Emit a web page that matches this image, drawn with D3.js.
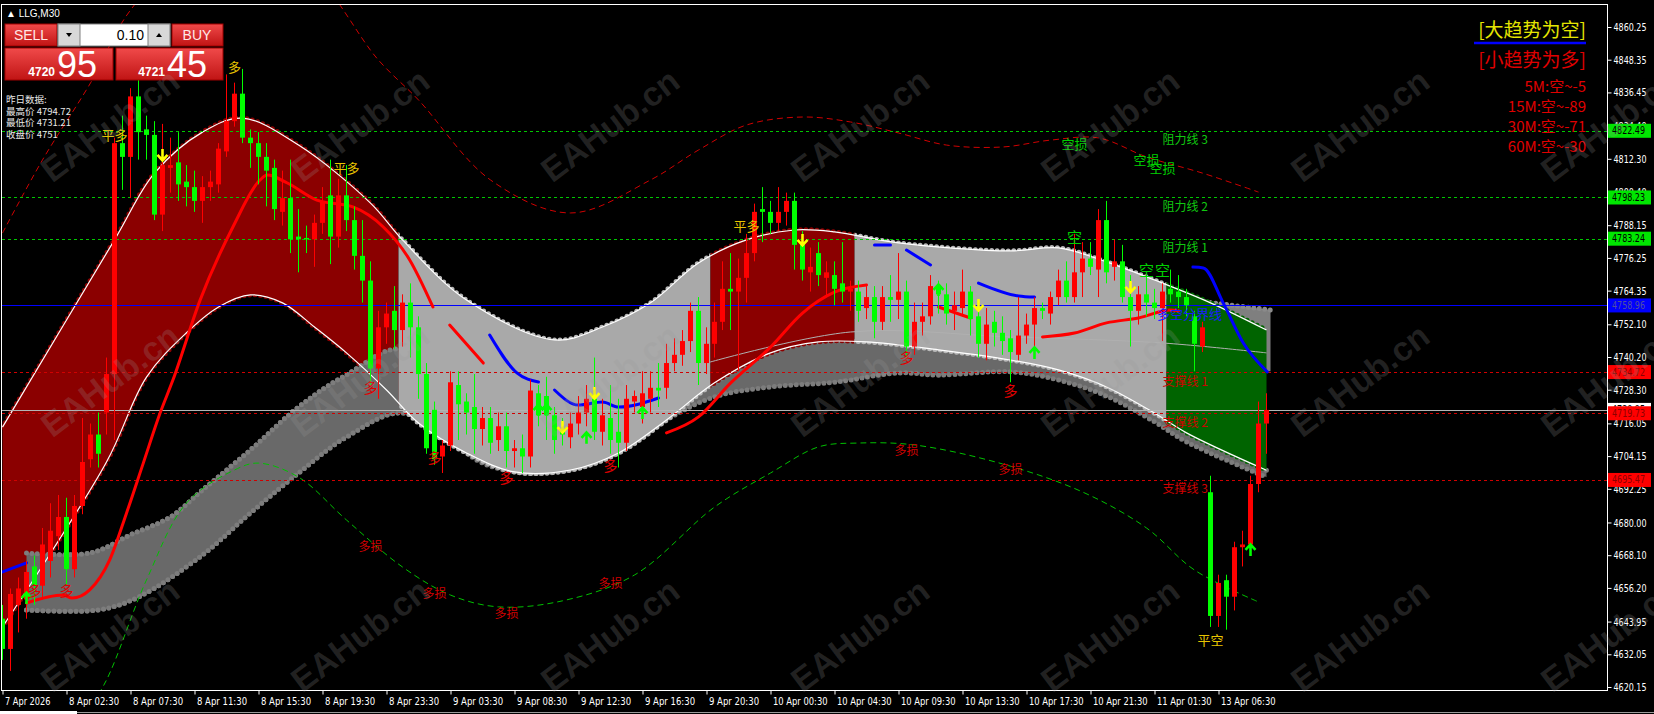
<!DOCTYPE html>
<html>
<head>
<meta charset="utf-8">
<script src="https://cdn.jsdelivr.net/npm/d3@7"></script>
<style>
body { margin: 0; background: #000; overflow: hidden; }
svg { display: block; }
</style>
</head>
<body>
<svg id="chart" width="1654" height="714"></svg>
<script>
// ---- data ----
var timeLabels = ["7 Apr 2026","8 Apr 02:30","8 Apr 07:30","8 Apr 11:30","8 Apr 15:30","8 Apr 19:30","8 Apr 23:30","9 Apr 03:30","9 Apr 08:30","9 Apr 12:30","9 Apr 16:30","9 Apr 20:30","10 Apr 00:30","10 Apr 04:30","10 Apr 09:30","10 Apr 13:30","10 Apr 17:30","10 Apr 21:30","11 Apr 01:30","13 Apr 06:30"];
var timeTickBars = [0,8,16,24,32,40,48,56,64,72,80,88,96,104,112,120,128,136,144,152];
var priceTicks = [4860.25,4848.35,4836.45,4824.40,4812.30,4800.40,4788.15,4776.25,4764.35,4752.10,4740.20,4728.30,4716.05,4704.15,4692.25,4680.00,4668.10,4656.20,4643.95,4632.05,4620.15];

var opens = [4645,4634,4650,4652,4664,4657,4666,4675,4682,4663,4686,4703,4712,4720,4734,4818,4813,4835,4823,4821,
  4792,4809,4811,4804,4802,4797,4802,4803,4815,4826,4836,4820,4818,4813,4809,4793,4798,4784,4783.5,4783,
  4789,4799,4784,4799,4790,4777,4768,4736,4751,4757,4750,4760,4751,4734,4721,4704,4708,4730,4724,4722,
  4714,4718,4710,4715,4706,4707,4704,4727,4726,4719,4714,4711,4716,4720,4725,4713,4718,4713,4709,4724,
  4722,4725,4729,4729,4738,4741,4746,4757,4738,4745,4753,4765,4764,4769,4778,4794,4793,4789,4793,4797,
  4781,4771,4778,4769,4770,4767,4764,4764,4758,4762,4753,4762,4761,4764,4744,4753,4755,4766,4763,4757,
  4758,4764,4755,4745,4753,4749,4747,4741,4748,4752,4758,4756,4762,4768,4762,4771,4776,4772,4790,4773,
  4775,4762,4757,4763,4760,4758,4765,4764,4762,4755,4744,4691,4646,4659,4653,4671,4672,4694,4716];
var highs = [4650,4656,4660,4666,4668,4678,4687,4690,4689,4690,4718,4716,4720,4740,4820,4828,4838,4843,4828,4826,
  4825,4820,4822,4810,4808,4806,4808,4818,4843,4840,4845,4823,4822,4818,4812,4808,4812,4794,4788,4792,
  4802,4812,4805,4810,4795,4790,4775,4757,4760,4766,4763,4767,4755,4738,4724,4710,4735,4735,4727,4734,
  4722,4722,4720,4720,4710,4712,4732,4730,4733,4722,4718,4720,4726,4730,4740,4725,4730,4725,4730,4728,
  4735,4735,4738,4745,4747,4750,4760,4762,4751,4760,4775,4778,4776,4785,4796,4802,4797,4802,4800,4800,
  4786,4780,4782,4775,4775,4782,4768,4768,4766,4766,4766,4770,4778,4768,4760,4760,4770,4768,4767,4764,
  4772,4766,4760,4758,4757,4755,4750,4762,4756,4762,4760,4764,4772,4775,4785,4782,4782,4794,4797,4783,
  4781,4770,4766,4770,4765,4767,4772,4770,4765,4757,4753,4697,4661,4661,4673,4677,4697,4724,4727];
var lows = [4630,4626,4640,4645,4650,4652,4660,4670,4657,4660,4683,4700,4700,4712,4710,4801,4798,4812,4812,4790,
  4786,4800,4797,4795,4793,4789,4797,4800,4813,4824,4818,4809,4803,4795,4790,4788,4778,4771,4778,4773,
  4785,4774,4780,4786,4772,4760,4730,4725,4745,4743,4744,4740,4725,4705,4701,4698,4706,4710,4712,4705,
  4708,4705,4706,4700,4700,4698,4700,4715,4710,4705,4708,4707,4712,4715,4710,4708,4705,4700,4706,4720,
  4716,4720,4722,4725,4735,4737,4742,4730,4734,4740,4750,4750,4735,4760,4775,4782,4785,4786,4788,4772,
  4768,4764,4766,4762,4759,4760,4757,4753,4754,4747,4750,4753,4754,4740,4741,4748,4752,4756,4752,4750,
  4755,4748,4740,4739,4744,4741,4731,4739,4745,4741,4754,4752,4759,4760,4760,4762,4770,4762,4767,4768,
  4760,4744,4752,4755,4754,4746,4760,4758,4755,4735,4742,4642,4642,4641,4648,4664,4671,4691,4705];
var closes = [4634,4654,4656,4662,4657,4672,4677,4682,4663,4686,4702,4712,4705,4734,4818,4813,4835,4822,4821,4792,
  4810,4810,4803,4802,4797,4802,4804,4816,4826,4836,4820,4818,4813,4808,4794,4798,4783,4783,4783,4789,
  4797,4784,4799,4790,4777,4768,4736,4751,4756,4750,4760,4751,4734,4707,4703,4708,4731,4723,4720,4714,
  4718,4709,4715,4706,4707,4704,4728,4719,4719,4710,4712,4716,4720,4725,4713,4719,4710,4709,4725,4726,
  4727,4729,4728,4738,4741,4746,4757,4738,4745,4753,4765,4764,4769,4778,4793,4793,4789,4793,4797,4781,
  4772,4773,4770,4771,4765,4764,4765,4757,4762,4753,4762,4761,4764,4744,4753,4755,4766,4763,4756,4759,
  4764,4754,4745,4752,4749,4746,4742,4748,4752,4758,4757,4762,4768,4762,4771,4776,4773,4790,4771,4775,
  4762,4757,4763,4760,4758,4764,4763,4762,4759,4745,4751,4646,4658,4653,4671,4672,4694,4716,4720.95];

// channel curves, [bar, price]
var upperBand = [[0,4714.7],[14,4782.8],[19,4807.1],[25,4822.0],[30,4827.1],[37,4817.3],[46,4796.2],[50,4782.8],[58,4760.9],[69,4746.4],[75,4751.1],[81,4759.9],[87,4774.4],[93,4782.8],[99,4786.4],[104,4785.7],[112,4781.7],[126,4778.8],[132,4779.9],[138,4774.8],[144,4768.2],[151,4759.9],[158,4750.0]];
var lowerBand = [[0,4642.0],[13,4702.0],[18,4732.9],[23,4749.0],[27,4758.4],[31,4762.8],[35,4759.9],[39,4751.1],[43,4741.7],[48,4728.2],[52,4716.2],[58,4705.3],[64,4698.4],[71,4699.1],[77,4705.3],[83,4717.3],[89,4730.8],[96,4741.7],[102,4745.7],[108,4745.7],[117,4742.8],[126,4739.1],[132,4735.5],[138,4729.3],[144,4719.8],[148,4712.6],[158,4699.0]];
var channelTop = [[3,4668.9],[11,4668.9],[16,4675.5],[21,4682.0],[25,4691.8],[31,4706.4],[37,4722.0],[43,4733.7],[50,4742.8],[58,4705.3],[64,4698.4],[71,4699.1],[77,4705.3],[83,4717.3],[89,4730.8],[96,4741.7],[102,4745.7],[108,4745.7],[117,4742.8],[126,4739.1],[132,4735.5],[138,4729.3],[144,4719.8],[148,4712.6],[158,4699.0]];
var channelBottom = [[3,4648.2],[12,4648.2],[17,4652.9],[25,4668.2],[31,4683.5],[37,4698.0],[43,4711.1],[50,4719.8],[58,4705.3],[64,4698.4],[71,4699.1],[77,4705.3],[83,4717.3],[89,4725.7],[96,4729.3],[104,4731.0],[112,4734.4],[117,4733.6],[126,4734.8],[132,4731.8],[138,4726.0],[144,4716.6],[148,4709.3],[158,4696.5]];
var capLine = [[145.5,4762.0],[158.5,4757.3]];
var midLine = [[88,4738.0],[106,4749.3],[126,4747.5],[145,4745.3],[158,4741.7]];
var farUpper = [[0,4785.3],[5,4811.9],[11,4839.9],[16,4866.4],[25,4891.9],[37,4884.6],[47,4848.2],[52,4833.7],[61,4804.6],[71,4792.6],[81,4804.6],[87,4815.5],[93,4824.6],[100,4827.5],[106,4825.7],[112,4821.7],[118,4817.3],[125,4816.6],[131,4819.1],[137,4819.9],[143,4813.0],[150,4807.1],[157,4800.2]];
var farLower = [[10,4608.2],[13,4622.7],[18,4659.1],[23,4687.1],[29,4699.1],[32,4701.6],[37,4696.5],[43,4680.9],[50,4663.8],[56,4653.6],[62,4649.3],[70,4651.5],[79,4660.9],[89,4685.6],[96,4698.0],[102,4707.5],[107,4708.9],[114,4708.2],[125,4701.3],[135,4691.1],[143,4678.0],[149,4662.7],[157,4651.1]];

// trend state per block of bars
var regimeState = ["up","flat","up","flat","down"];
var regimeFirst = [0,50,89,107,146];
var regimeLast = [49,88,106,145,158];

// trend line, pieces
var maUp = [
  [[3,4650.7],[7.6,4653.6],[8.7,4652.5],[10.9,4655.5],[13.4,4666.4],[15.5,4683.4],[17.6,4701.6],[19.7,4719.8],[21.3,4731.8],[24.7,4760.9],[28.8,4787.5],[32.2,4804.6],[33.1,4806.4],[35.6,4803.5],[39.3,4797.3],[43.8,4794.8],[47.6,4787.5],[50.9,4775.5],[53.8,4758.4]],
  [[55.9,4751.8],[60.1,4738.0]],
  [[83,4712.6],[87,4718.4],[91,4730.7],[96,4743.8],[100,4756.2],[104,4763.8],[108,4766.4]],
  [[117,4758.4],[121,4754.4]],
  [[130,4747.5],[134,4748.9],[138,4752.6],[142,4754.4],[146,4757.3],[147,4757.0]]
];
var maDown = [
  [[0,4662.0],[3,4665.3]],
  [[60.9,4748.2],[64.3,4734.4],[67,4731.1]],
  [[69,4728.2],[72,4722.7],[75,4723.8],[77,4722.0],[82,4725.3]],
  [[109,4780.9],[111,4780.9]],
  [[113,4779.1],[116,4773.7]],
  [[122,4767.1],[127,4762.4],[129,4762.0]],
  [[148.8,4772.9],[150.1,4772.6],[152.6,4759.8],[155.1,4745.3],[158.1,4734.8]]
];

var resistance = [4822.49, 4798.23, 4783.24];
var resistanceNames = ["阻力线 3", "阻力线 2", "阻力线 1"];
var support = [4734.72, 4719.73, 4695.47];
var supportNames = ["支撑线 1", "支撑线 2", "支撑线 3"];
var pivot = 4758.96;
var bid = 4720.95;

var sellArrows = [[20,4813.7],[70,4714.7],[74,4727.1],[100,4782.8],[122,4759.1],[141,4765.7]];
var buyArrows = [[3,4652.5],[67,4720.9],[68,4720.9],[73,4710.8],[80,4719.8],[117,4764.6],[129,4741.7],[156,4670.0]];

var exitSignals = [{t:"多",i:29,p:4845.7},{t:"平多",i:14,p:4821.0},{t:"平多",i:43,p:4809.0},{t:"平多",i:93,p:4788.2},{t:"平空",i:151,p:4637.6}];
var longSignals = [{t:"多",i:4,p:4655.5},{t:"多",i:8,p:4655.5},{t:"多",i:46,p:4729.3},{t:"多",i:54,p:4703.8},{t:"多",i:63,p:4696.5},{t:"多",i:76,p:4700.9},{t:"多",i:113,p:4740.2},{t:"多",i:126,p:4728.2}];
var longStops = [{t:"多损",i:46,p:4671.8},{t:"多损",i:54,p:4654.4},{t:"多损",i:63,p:4647.4},{t:"多损",i:76,p:4658.0},{t:"多损",i:113,p:4706.4},{t:"多损",i:126,p:4699.5}];
var shortSignals = [{t:"空",i:134,p:4783.9},{t:"空",i:143,p:4771.9},{t:"空",i:145,p:4771.9}];
var shortStops = [{t:"空损",i:134,p:4818.0},{t:"空损",i:143,p:4811.9},{t:"空损",i:145,p:4809.3}];

var trendTitles = ["[大趋势为空]", "[小趋势为多]"];
var trendScores = ["5M:空~-5", "15M:空~-89", "30M:空~-71", "60M:空~-30"];
var yesterday = ["昨日数据:", "最高价 4794.72", "最低价 4731.21", "收盘价 4751"];
var quote = {symbol: "LLG,M30", lot: "0.10", sellBig: "4720", sellSmall: "95", buyBig: "4721", buySmall: "45"};

// ---- drawing ----
var svg = d3.select("#chart");
var defs = svg.append("defs");
var cjk = "'Noto Sans CJK SC', sans-serif";
var narrow = "'DejaVu Sans Condensed', 'DejaVu Sans', sans-serif";

svg.append("rect").attr("width", 1654).attr("height", 714).attr("fill", "#000");

var xs = d3.scaleLinear().domain([0, 200]).range([2.5, 1602.5]);
var ys = d3.scaleLinear().domain([4620.15, 4860.25]).range([687, 27]);

defs.append("clipPath").attr("id", "plot")
  .append("rect").attr("x", 2).attr("y", 4).attr("width", 1605).attr("height", 686);

var g = svg.append("g").attr("clip-path", "url(#plot)");

var line = d3.line().x(function(d) { return xs(d[0]); }).y(function(d) { return ys(d[1]); })
  .curve(d3.curveCatmullRom.alpha(0.5));

function bandPath(top, bottom) {
  var a = line(top);
  var b = line(bottom.slice().reverse());
  return a + "L" + b.slice(1) + "Z";
}

var regimeFill = {up: "#8b0000", flat: "#a9a9a9", down: "#006400"};
var regimeDots = {up: "#8b0000", flat: "#b9b9b9", down: "#006400"};

function dotted(sel, d, color, w) {
  sel.append("path").attr("d", d).attr("fill", "none").attr("stroke", color)
    .attr("stroke-width", w).attr("stroke-linecap", "round").attr("stroke-dasharray", "0 " + (w + 0.5));
}

// lower grey channel
function drawChannel(parent) {
  parent.append("path").attr("d", bandPath(channelTop, channelBottom)).attr("fill", "#696969");
  dotted(parent, line(channelTop), "#7d7d7d", 5);
  dotted(parent, line(channelBottom), "#7d7d7d", 5);
}
drawChannel(g.append("g"));

// grey cap above the last block
g.append("path")
  .attr("d", line(capLine) + "L" + xs(158.5) + "," + ys(4735) + "L" + xs(145.5) + "," + ys(4735) + "Z")
  .attr("fill", "#7f7f7f");
dotted(g, line(capLine), "#8a8a8a", 5);

// main envelope, coloured by trend block
regimeState.forEach(function(s, k) {
  var id = "reg" + k;
  defs.append("clipPath").attr("id", id).append("rect")
    .attr("x", xs(regimeFirst[k] - 0.5)).attr("y", 0)
    .attr("width", xs(regimeLast[k] + 0.5) - xs(regimeFirst[k] - 0.5)).attr("height", 714);
  var rg = g.append("g").attr("clip-path", "url(#" + id + ")");
  dotted(rg, line(upperBand), regimeDots[s], 5);
  dotted(rg, line(lowerBand), regimeDots[s], 5);
  rg.append("path").attr("d", bandPath(upperBand, lowerBand)).attr("fill", regimeFill[s]);
});

// channel in front of the first block
defs.append("clipPath").attr("id", "firstBlock").append("rect")
  .attr("x", 0).attr("y", 0).attr("width", xs(49.5)).attr("height", 714);
drawChannel(g.append("g").attr("clip-path", "url(#firstBlock)"));

g.append("path").attr("d", line(midLine)).attr("fill", "none").attr("stroke", "#b0b0b0").attr("stroke-width", 1);
g.append("path").attr("d", line(upperBand)).attr("fill", "none").attr("stroke", "#ffffff").attr("stroke-width", 1.2);
g.append("path").attr("d", line(lowerBand)).attr("fill", "none").attr("stroke", "#ffffff").attr("stroke-width", 1.2);

g.append("path").attr("d", line(farUpper)).attr("fill", "none").attr("stroke", "#d00000")
  .attr("stroke-width", 1).attr("stroke-dasharray", "6 4");
g.append("path").attr("d", line(farLower)).attr("fill", "none").attr("stroke", "#00c000")
  .attr("stroke-width", 1).attr("stroke-dasharray", "6 4");

// horizontal levels
function hline(p, color, dash) {
  g.append("line").attr("x1", 2).attr("x2", 1607).attr("y1", Math.round(ys(p)) + 0.5).attr("y2", Math.round(ys(p)) + 0.5)
    .attr("stroke", color).attr("stroke-width", 1).attr("stroke-dasharray", dash);
}
resistance.forEach(function(p) { hline(p, "#00c800", "3 3"); });
support.forEach(function(p) { hline(p, "#d00000", "3 3"); });
hline(bid, "#b4b4b4", null);
hline(pivot, "#0000ff", null);

// trend line pieces
var maLine = d3.line().x(function(d) { return xs(d[0]); }).y(function(d) { return ys(d[1]); })
  .curve(d3.curveMonotoneX);
maUp.forEach(function(seg) {
  g.append("path").attr("d", maLine(seg)).attr("fill", "none").attr("stroke", "#ff0000")
    .attr("stroke-width", 3).attr("stroke-linecap", "round");
});
maDown.forEach(function(seg) {
  g.append("path").attr("d", maLine(seg)).attr("fill", "none").attr("stroke", "#0000ff")
    .attr("stroke-width", 3).attr("stroke-linecap", "round");
});

// candles
var candle = g.append("g").selectAll("g").data(d3.range(opens.length)).join("g")
  .attr("fill", function(i) { return closes[i] >= opens[i] ? "#ff0000" : "#00ff00"; })
  .attr("stroke", function(i) { return closes[i] >= opens[i] ? "#ff0000" : "#00ff00"; });
candle.append("line")
  .attr("x1", function(i) { return xs(i); }).attr("x2", function(i) { return xs(i); })
  .attr("y1", function(i) { return ys(highs[i]); }).attr("y2", function(i) { return ys(lows[i]); })
  .attr("stroke-width", 1);
candle.append("rect")
  .attr("x", function(i) { return xs(i) - 2.5; }).attr("width", 5)
  .attr("y", function(i) { return ys(Math.max(opens[i], closes[i])); })
  .attr("height", function(i) { return Math.max(1, Math.abs(ys(opens[i]) - ys(closes[i]))); })
  .attr("stroke", "none");

// arrows
g.selectAll(".sell").data(sellArrows).join("path")
  .attr("transform", function(d) { return "translate(" + xs(d[0]) + "," + ys(d[1]) + ")"; })
  .attr("d", "M0,-6V5M-5,0L0,5.5L5,0").attr("fill", "none").attr("stroke", "#ffff00").attr("stroke-width", 2.6);
g.selectAll(".buy").data(buyArrows).join("path")
  .attr("transform", function(d) { return "translate(" + xs(d[0]) + "," + ys(d[1]) + ")"; })
  .attr("d", "M0,6V-5M-5,0L0,-5.5L5,0").attr("fill", "none").attr("stroke", "#00ff00").attr("stroke-width", 2.6);

// signal texts
function signals(data, color, size) {
  g.selectAll(null).data(data).join("text")
    .attr("x", function(d) { return xs(d.i); }).attr("y", function(d) { return ys(d.p); })
    .attr("text-anchor", "middle").attr("dominant-baseline", "central")
    .attr("font-family", cjk).attr("font-size", size).attr("fill", color)
    .text(function(d) { return d.t; });
}
signals(exitSignals, "#e8c400", 13);
signals(longSignals, "#e00000", 14);
signals(longStops, "#d00000", 12);
signals(shortSignals, "#00d000", 15);
signals(shortStops, "#00d000", 13);

// level names
resistance.forEach(function(p, k) {
  g.append("text").attr("x", xs(145)).attr("y", ys(p) + 8).attr("dominant-baseline", "central")
    .attr("font-family", cjk).attr("font-size", 12).attr("fill", "#10c810").text(resistanceNames[k]);
});
support.forEach(function(p, k) {
  g.append("text").attr("x", xs(145)).attr("y", ys(p) + 8).attr("dominant-baseline", "central")
    .attr("font-family", cjk).attr("font-size", 12).attr("fill", "#d00000").text(supportNames[k]);
});
g.append("text").attr("x", xs(144.3)).attr("y", ys(pivot) + 8).attr("dominant-baseline", "central")
  .attr("font-family", cjk).attr("font-size", 13).attr("fill", "#1a1aff").text("多空分界线");

// frame
svg.append("rect").attr("x", 1.5).attr("y", 4.5).attr("width", 1606).attr("height", 686)
  .attr("fill", "none").attr("stroke", "#ffffff").attr("stroke-width", 1);

// price axis
var yAxis = svg.append("g").attr("transform", "translate(1607.5,0)")
  .call(d3.axisRight(ys).tickValues(priceTicks).tickFormat(d3.format(".2f")).tickSize(4).tickPadding(2));
yAxis.select(".domain").remove();
yAxis.selectAll("line").attr("stroke", "#ffffff");
yAxis.selectAll("text").attr("fill", "#ffffff").attr("font-family", narrow).attr("font-size", 11)
  .attr("textLength", 33).attr("lengthAdjust", "spacingAndGlyphs");

// time axis
var xAxis = svg.append("g").attr("transform", "translate(0,690.5)")
  .call(d3.axisBottom(xs).tickValues(timeTickBars).tickFormat(function(d, k) { return timeLabels[k]; }).tickSize(4));
xAxis.select(".domain").remove();
xAxis.selectAll("line").attr("stroke", "#ffffff");
xAxis.selectAll("text").attr("fill", "#ffffff").attr("font-family", narrow).attr("font-size", 11)
  .attr("text-anchor", "start").attr("x", 2).attr("y", 7)
  .attr("textLength", function(d, k) { return timeLabels[k].length * 4.55; })
  .attr("lengthAdjust", "spacingAndGlyphs");

// price tags on the axis
function tag(p, bg, fg) {
  var y = ys(p);
  svg.append("rect").attr("x", 1608).attr("y", y - 7).attr("width", 43).attr("height", 14).attr("fill", bg);
  svg.append("text").attr("x", 1612).attr("y", y).attr("dominant-baseline", "central")
    .attr("font-family", narrow).attr("font-size", 11).attr("fill", fg)
    .attr("textLength", 33).attr("lengthAdjust", "spacingAndGlyphs").text(d3.format(".2f")(p));
}
resistance.forEach(function(p) { tag(p, "#00e600", "#000000"); });
tag(pivot, "#0000ff", "#5050a0");
tag(bid, "#ffffff", "#000000");
support.forEach(function(p) { tag(p, "#ff0000", "#8b0000"); });

// bottom tab strip
svg.append("line").attr("x1", 0).attr("x2", 1654).attr("y1", 712.5).attr("y2", 712.5).attr("stroke", "#9a9a9a");
svg.append("rect").attr("x", 0).attr("y", 711).attr("width", 77).attr("height", 3).attr("fill", "#ffffff");

// top right trend panel
svg.append("text").attr("x", 1586).attr("y", 28).attr("text-anchor", "end").attr("dominant-baseline", "central")
  .attr("font-family", cjk).attr("font-size", 19).attr("fill", "#e6e600").text(trendTitles[0]);
svg.append("line").attr("x1", 1474).attr("x2", 1586).attr("y1", 43).attr("y2", 43)
  .attr("stroke", "#0000ff").attr("stroke-width", 2.5);
svg.append("text").attr("x", 1586).attr("y", 58).attr("text-anchor", "end").attr("dominant-baseline", "central")
  .attr("font-family", cjk).attr("font-size", 19).attr("fill", "#e00000").text(trendTitles[1]);
trendScores.forEach(function(s, k) {
  svg.append("text").attr("x", 1586).attr("y", 85 + k * 20).attr("text-anchor", "end").attr("dominant-baseline", "central")
    .attr("font-family", cjk).attr("font-size", 15).attr("fill", "#e00000").text(s);
});

// top left trade panel
svg.append("text").attr("x", 6).attr("y", 13).attr("dominant-baseline", "central")
  .attr("font-family", "'Liberation Sans', sans-serif").attr("font-size", 10).attr("fill", "#ffffff")
  .text("▲ " + quote.symbol);

var grad = defs.append("linearGradient").attr("id", "btn").attr("x1", 0).attr("y1", 0).attr("x2", 0).attr("y2", 1);
grad.append("stop").attr("offset", "0%").attr("stop-color", "#f04a4a");
grad.append("stop").attr("offset", "100%").attr("stop-color", "#c01414");

function box(x, y, w, h) {
  svg.append("rect").attr("x", x).attr("y", y).attr("width", w).attr("height", h)
    .attr("fill", "url(#btn)").attr("stroke", "#a00000").attr("stroke-width", 1);
}
box(5, 24, 52, 22);
box(172, 24, 51, 22);
box(5, 48, 108, 32);
box(116, 48, 107, 32);
svg.append("rect").attr("x", 58).attr("y", 24).attr("width", 112).attr("height", 22).attr("fill", "#ffffff").attr("stroke", "#808080");
svg.append("rect").attr("x", 58).attr("y", 24).attr("width", 22).attr("height", 22).attr("fill", "#d8d8d8").attr("stroke", "#808080");
svg.append("rect").attr("x", 148).attr("y", 24).attr("width", 22).attr("height", 22).attr("fill", "#d8d8d8").attr("stroke", "#808080");
svg.append("path").attr("d", "M66,33L72,33L69,37Z").attr("fill", "#000");
svg.append("path").attr("d", "M156,37L162,37L159,33Z").attr("fill", "#000");
svg.append("text").attr("x", 144).attr("y", 35).attr("text-anchor", "end").attr("dominant-baseline", "central")
  .attr("font-family", "'Liberation Sans', sans-serif").attr("font-size", 14).attr("fill", "#000").text(quote.lot);
svg.append("text").attr("x", 31).attr("y", 35).attr("text-anchor", "middle").attr("dominant-baseline", "central")
  .attr("font-family", "'Liberation Sans', sans-serif").attr("font-size", 14).attr("fill", "#ffe8e8").text("SELL");
svg.append("text").attr("x", 197).attr("y", 35).attr("text-anchor", "middle").attr("dominant-baseline", "central")
  .attr("font-family", "'Liberation Sans', sans-serif").attr("font-size", 14).attr("fill", "#ffe8e8").text("BUY");
svg.append("text").attr("x", 55).attr("y", 76).attr("text-anchor", "end")
  .attr("font-family", "'Liberation Sans', sans-serif").attr("font-weight", "bold").attr("font-size", 12).attr("fill", "#ffffff").text(quote.sellBig);
svg.append("text").attr("x", 57).attr("y", 77)
  .attr("font-family", "'Liberation Sans', sans-serif").attr("font-size", 36).attr("fill", "#ffffff").text(quote.sellSmall);
svg.append("text").attr("x", 165).attr("y", 76).attr("text-anchor", "end")
  .attr("font-family", "'Liberation Sans', sans-serif").attr("font-weight", "bold").attr("font-size", 12).attr("fill", "#ffffff").text(quote.buyBig);
svg.append("text").attr("x", 167).attr("y", 77)
  .attr("font-family", "'Liberation Sans', sans-serif").attr("font-size", 36).attr("fill", "#ffffff").text(quote.buySmall);

yesterday.forEach(function(s, k) {
  svg.append("text").attr("x", 6).attr("y", 99 + k * 11.7).attr("dominant-baseline", "central")
    .attr("font-family", cjk).attr("font-size", 9.5).attr("fill", "#e8e8e8").text(s);
});

// watermark
var wmCols = [110, 360, 610, 860, 1110, 1360, 1610];
var wmRows = [125, 380, 635];
wmRows.forEach(function(y) {
  wmCols.forEach(function(x) {
    svg.append("text").attr("transform", "translate(" + x + "," + y + ") rotate(-37)")
      .attr("text-anchor", "middle").attr("dominant-baseline", "central")
      .attr("font-family", "'Liberation Sans', sans-serif").attr("font-weight", "bold").attr("font-size", 34)
      .attr("fill", "#9a9a9a").attr("fill-opacity", 0.22).text("EAHub.cn");
  });
});
</script>
</body>
</html>
